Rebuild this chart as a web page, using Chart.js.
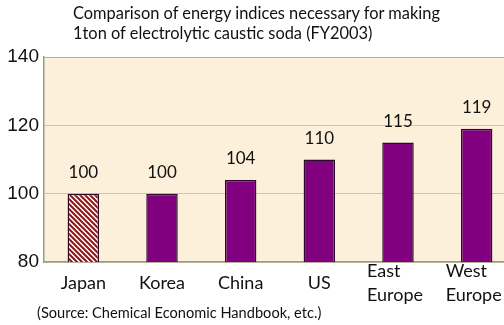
<!DOCTYPE html>
<html>
<head>
<meta charset="utf-8">
<script src="https://cdn.jsdelivr.net/npm/chart.js@4"></script>
<style>
  html, body { margin: 0; padding: 0; background: #fff; overflow: hidden; }
  #wrap { position: relative; width: 520px; height: 325px; }
  .txt { position: absolute; font-family: Lato, "Open Sans", sans-serif; color: #111; white-space: nowrap; }
  #title { left: 73px; top: 3px; font-size: 16.4px; line-height: 20px; }
  #source { left: 37px; top: 304px; font-size: 14.6px; }
</style>
</head>
<body>
<div id="wrap">
  <canvas id="chart" width="520" height="325"></canvas>
  <div id="title" class="txt">Comparison of energy indices necessary for making<br>1ton of electrolytic caustic soda (FY2003)</div>
  <div id="source" class="txt">(Source: Chemical Economic Handbook, etc.)</div>
</div>
<script>
// chart data
const categories = [['Japan'], ['Korea'], ['China'], ['US'], ['East', 'Europe'], ['West', 'Europe']];
const energyIndex = [100, 100, 104, 110, 115, 119];
const yTicks = [80, 100, 120, 140];

// hatched fill for Japan
function makeHatch() {
    const c = document.createElement('canvas');
    c.width = 5; c.height = 5;
    const g = c.getContext('2d');
    g.fillStyle = '#ffffff';
    g.fillRect(0, 0, 5, 5);
    g.strokeStyle = '#8e1515';
    g.lineWidth = 2;
    g.beginPath();
    g.moveTo(-1, -1); g.lineTo(6, 6);
    g.moveTo(-4, 1); g.lineTo(4, 9);
    g.moveTo(1, -4); g.lineTo(9, 4);
    g.stroke();
    return g.createPattern(c, 'repeat');
}

const ctx = document.getElementById('chart').getContext('2d');
const hatch = makeHatch();
const barColors = energyIndex.map((v, i) => i === 0 ? hatch : '#800080');
const labelFont = '18px Lato, "Open Sans", sans-serif';

const plotBg = {
    id: 'plotBg',
    beforeDraw(chart) {
        const a = chart.chartArea, c = chart.ctx;
        c.save();
        c.fillStyle = '#fcf0da';
        c.fillRect(a.left, a.top, a.right - a.left, a.bottom - a.top);
        c.restore();
    }
};

const valueLabels = {
    id: 'valueLabels',
    afterDatasetsDraw(chart) {
        const c = chart.ctx;
        const meta = chart.getDatasetMeta(0);
        c.save();
        c.font = '17px Lato, "Open Sans", sans-serif';
        c.fillStyle = '#111';
        c.textAlign = 'center';
        c.textBaseline = 'middle';
        meta.data.forEach((bar, i) => {
            c.fillText(String(energyIndex[i]), bar.x, bar.y - 21);
        });
        c.restore();
    }
};

const xLabels = {
    id: 'xLabels',
    afterDraw(chart) {
        const c = chart.ctx;
        const x = chart.scales.x;
        c.save();
        c.font = labelFont;
        c.fillStyle = '#111';
        c.textBaseline = 'middle';
        categories.forEach((lines, i) => {
            const px = x.getPixelForValue(i);
            if (lines.length === 1) {
                c.textAlign = 'center';
                c.fillText(lines[0], px, 283);
            } else {
                // two-line labels share the left edge of the wider line
                const w = Math.max(...lines.map(s => c.measureText(s).width));
                c.textAlign = 'left';
                c.fillText(lines[0], px - w / 2 - 3, 271);
                c.fillText(lines[1], px - w / 2 - 3, 295);
            }
        });
        c.restore();
    }
};

new Chart(ctx, {
    type: 'bar',
    data: {
        labels: categories.map(l => l.join(' ')),
        datasets: [{
            data: energyIndex,
            backgroundColor: barColors,
            borderColor: '#2a0a2a',
            borderWidth: 1.5,
            barPercentage: 0.4,
            categoryPercentage: 1.0
        }]
    },
    options: {
        responsive: false,
        animation: false,
        layout: { padding: { top: 57, right: 4, left: 0, bottom: 0 } },
        plugins: {
            legend: { display: false },
            tooltip: { enabled: false }
        },
        scales: {
            x: {
                grid: { display: false },
                border: { color: '#9a9a9a', width: 1.5 },
                ticks: { display: false },
                afterFit(scale) { scale.height = 63; }
            },
            y: {
                min: 80,
                max: 140,
                afterBuildTicks(scale) { scale.ticks = yTicks.map(v => ({ value: v })); },
                grid: {
                    color: (c) => c.tick && c.tick.value === 140 ? '#b0b0b0' : '#cfc3a8',
                    drawTicks: false
                },
                border: { color: '#9a9a9a', width: 1.5 },
                ticks: {
                    padding: 5,
                    color: '#111',
                    font: { family: '"Liberation Sans", Arial, sans-serif', size: 19 }
                },
                afterFit(scale) { scale.width = 44; }
            }
        }
    },
    plugins: [plotBg, valueLabels, xLabels]
});
</script>
</body>
</html>
